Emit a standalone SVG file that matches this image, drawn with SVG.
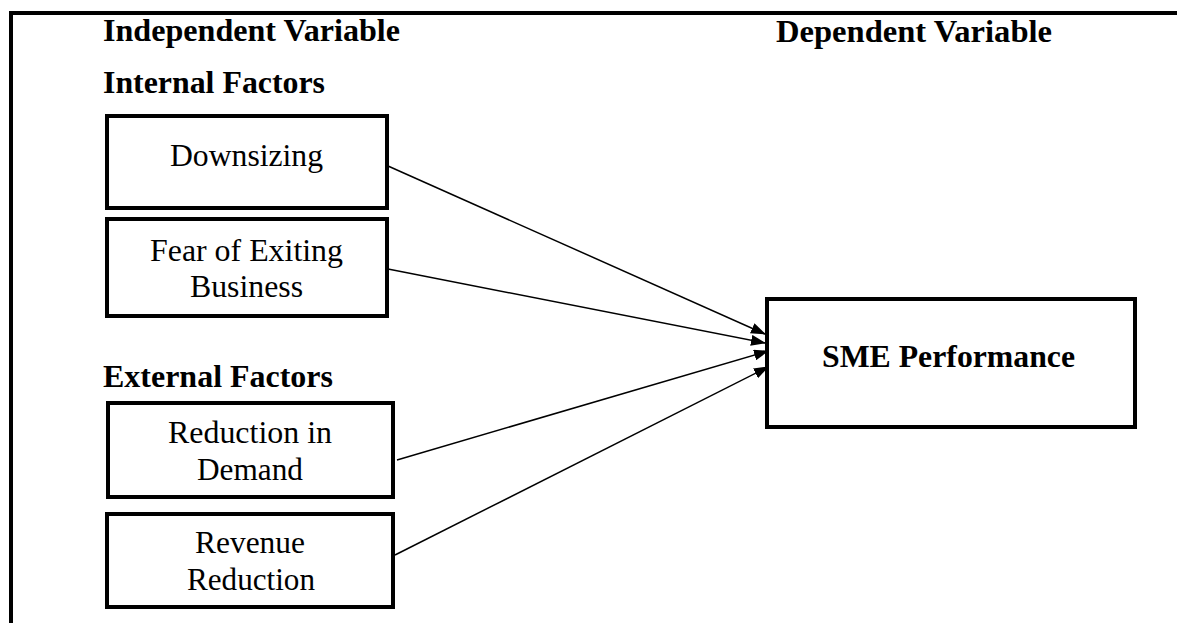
<svg xmlns="http://www.w3.org/2000/svg" width="1177" height="623" viewBox="0 0 1177 623">
<style>
.box{fill:#fff;stroke:#000;stroke-width:4}
.t{font-family:"Liberation Serif","Times New Roman",serif;font-size:32px;fill:#000}
.b{font-weight:bold}
.ln{stroke:#000;stroke-width:1.5;fill:none}
</style>
<defs>
<marker id="ah" markerWidth="15" markerHeight="11" refX="14" refY="5.5" orient="auto" markerUnits="userSpaceOnUse" viewBox="0 0 15 11">
<path d="M0,0 L15,5.5 L0,11 z" fill="#000"/>
</marker>
</defs>
<rect x="0" y="0" width="1177" height="623" fill="#fff"/>
<path d="M11,623 L11,13 L1177,13" fill="none" stroke="#000" stroke-width="4"/>
<g id="labels">
<text class="t b" x="103" y="41" textLength="297" lengthAdjust="spacingAndGlyphs">Independent Variable</text>
<text class="t b" x="776" y="42" textLength="276" lengthAdjust="spacingAndGlyphs">Dependent Variable</text>
<text class="t b" x="103" y="93" textLength="222" lengthAdjust="spacingAndGlyphs">Internal Factors</text>
<text class="t b" x="103" y="387" textLength="230" lengthAdjust="spacingAndGlyphs">External Factors</text>
</g>
<g id="connectors">
<line class="ln" x1="388" y1="166" x2="765" y2="334" marker-end="url(#ah)"/>
<line class="ln" x1="388" y1="269" x2="765" y2="343" marker-end="url(#ah)"/>
<line class="ln" x1="397" y1="460" x2="768" y2="351" marker-end="url(#ah)"/>
<line class="ln" x1="395" y1="555" x2="768" y2="367" marker-end="url(#ah)"/>
</g>
<g id="downsizing">
<rect class="box" x="107" y="116" width="280" height="92"/>
<text class="t" x="170" y="166" textLength="153" lengthAdjust="spacingAndGlyphs">Downsizing</text>
</g>
<g id="fear">
<rect class="box" x="107" y="219" width="280" height="97"/>
<text class="t" x="150" y="261" textLength="193" lengthAdjust="spacingAndGlyphs">Fear of Exiting</text>
<text class="t" x="190" y="297" textLength="113" lengthAdjust="spacingAndGlyphs">Business</text>
</g>
<g id="reduction">
<rect class="box" x="108" y="403" width="285" height="94"/>
<text class="t" x="168" y="443" textLength="164" lengthAdjust="spacingAndGlyphs">Reduction in</text>
<text class="t" x="197" y="480" textLength="106" lengthAdjust="spacingAndGlyphs">Demand</text>
</g>
<g id="revenue">
<rect class="box" x="107" y="514" width="286" height="93"/>
<text class="t" x="195" y="553" textLength="110" lengthAdjust="spacingAndGlyphs">Revenue</text>
<text class="t" x="187" y="590" textLength="128" lengthAdjust="spacingAndGlyphs">Reduction</text>
</g>
<g id="sme">
<rect class="box" x="767" y="299" width="368" height="128"/>
<text class="t b" x="822" y="367" textLength="253" lengthAdjust="spacingAndGlyphs">SME Performance</text>
</g>
</svg>
